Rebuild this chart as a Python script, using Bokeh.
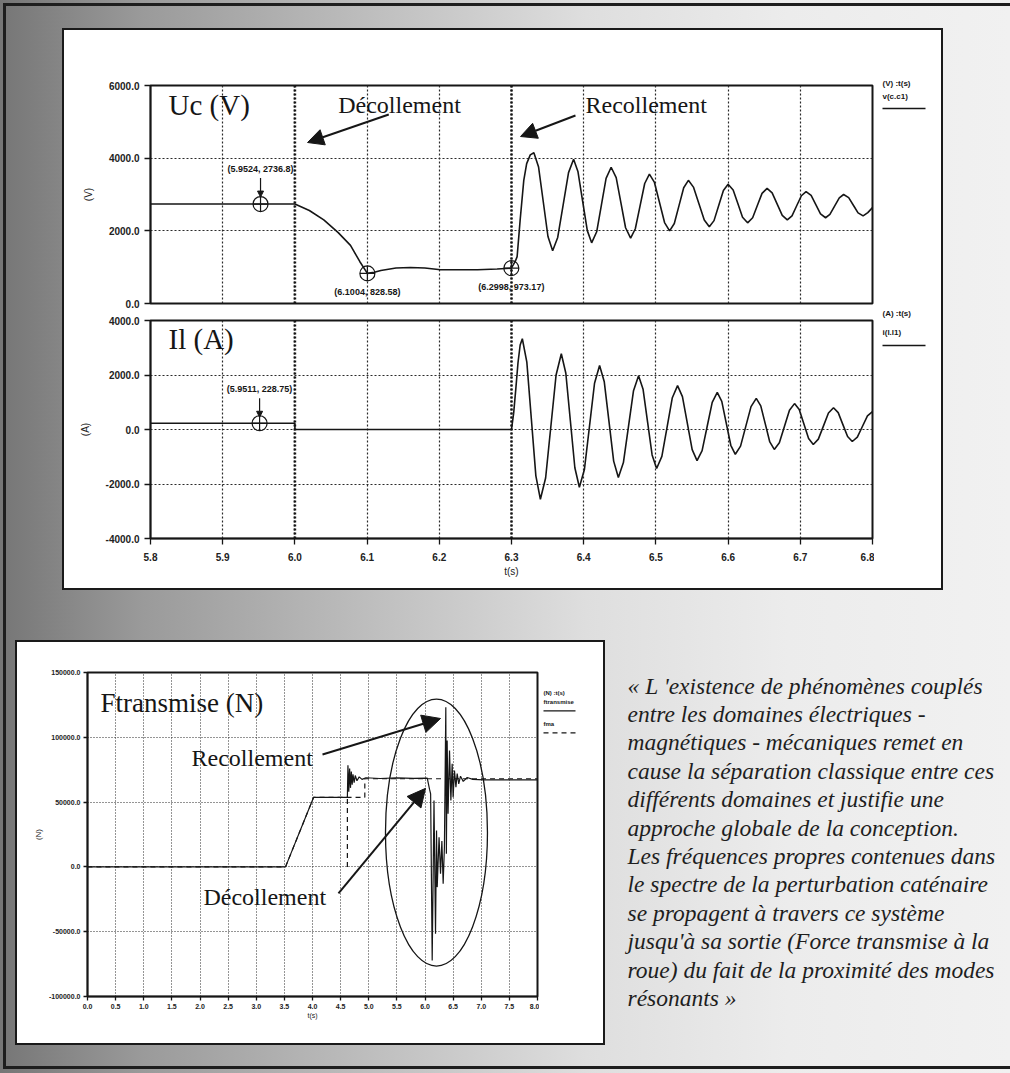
from bokeh.plotting import figure
from bokeh.layouts import column, row
from bokeh.models import (Range1d, FixedTicker, PrintfTickFormatter, Label, Arrow,
                          NormalHead, Span, Spacer)
from bokeh.core.properties import value
from bokeh.embed import file_html
from bokeh.resources import INLINE

# ------------------------------------------------------------------ data
# Uc (V) versus t (s)
uc_t = [5.80, 6.000, 6.020, 6.040, 6.060, 6.077, 6.090, 6.1004, 6.110, 6.119, 6.140,
        6.160, 6.180, 6.2017, 6.230, 6.253, 6.280, 6.2998, 6.305, 6.3078, 6.312, 6.317,
        6.321, 6.326, 6.331,
        6.3375, 6.344, 6.3505, 6.357,
        6.364, 6.3715, 6.379, 6.386,
        6.392, 6.3985, 6.405, 6.411,
        6.418, 6.4245, 6.431, 6.438,
        6.445, 6.4515, 6.458, 6.465,
        6.4715, 6.478, 6.4845, 6.491,
        6.498, 6.505, 6.512, 6.519,
        6.5255, 6.532, 6.5385, 6.545,
        6.552, 6.5595, 6.567, 6.574,
        6.5805, 6.587, 6.5935, 6.600,
        6.607, 6.6135, 6.620, 6.627,
        6.634, 6.6405, 6.647, 6.654,
        6.661, 6.668, 6.675, 6.682,
        6.6885, 6.695, 6.7015, 6.708,
        6.715, 6.7215, 6.728, 6.735,
        6.741, 6.7475, 6.754, 6.760,
        6.767, 6.7735, 6.780, 6.787,
        6.7935, 6.800]
uc_v = [2736.8, 2736.8, 2560, 2300, 1950, 1600, 1150, 828.58, 860, 910, 975,
        990, 975, 930, 930, 930, 950, 973.17, 1150, 1290, 2300, 3390,
        3850, 4090, 4150,
        3756, 2800, 1844, 1450,
        1818, 2710, 3602, 3970,
        3634, 2820, 2006, 1670,
        1974, 2710, 3446, 3750,
        3465, 2775, 2085, 1800,
        2057, 2680, 3303, 3560,
        3332, 2780, 2228, 2000,
        2203, 2695, 3187, 3390,
        3203, 2750, 2297, 2110,
        2281, 2695, 3109, 3280,
        3125, 2750, 2375, 2220,
        2359, 2695, 3031, 3170,
        3043, 2735, 2427, 2300,
        2414, 2690, 2966, 3080,
        2975, 2720, 2465, 2360,
        2453, 2680, 2907, 3000,
        2914, 2705, 2496, 2410,
        2500, 2640]

# Il (A) versus t (s)
il_t = [5.80, 6.000, 6.000, 6.300, 6.303, 6.306, 6.309, 6.312, 6.315,
        6.32125, 6.3275, 6.33375, 6.340,
        6.34725, 6.3545, 6.36175, 6.369,
        6.37525, 6.3815, 6.38775, 6.394,
        6.401, 6.408, 6.415, 6.422,
        6.4285, 6.435, 6.4415, 6.448,
        6.455, 6.462, 6.469, 6.476,
        6.48225, 6.4885, 6.49475, 6.501,
        6.50825, 6.5155, 6.52275, 6.530,
        6.53675, 6.5435, 6.55025, 6.557,
        6.564, 6.571, 6.578, 6.585,
        6.59125, 6.5975, 6.60375, 6.610,
        6.61725, 6.6245, 6.63175, 6.639,
        6.64525, 6.6515, 6.65775, 6.664,
        6.671, 6.678, 6.685, 6.692,
        6.6985, 6.705, 6.7115, 6.718,
        6.725, 6.732, 6.739, 6.746,
        6.7525, 6.759, 6.7655, 6.772,
        6.779, 6.786, 6.793, 6.800]
il_v = [228.75, 228.75, 0, 0, 600, 1500, 2450, 3100, 3330,
        2470, 385, -1700, -2560,
        -1780, 110, 2000, 2780,
        2065, 330, -1405, -2120,
        -1467, 115, 1697, 2350,
        1750, 295, -1160, -1760,
        -1215, 105, 1425, 1970,
        1474, 270, -934, -1430,
        -986, 90, 1166, 1610,
        1209, 235, -739, -1140,
        -775, 110, 995, 1360,
        1029, 225, -579, -910,
        -611, 115, 841, 1140,
        867, 205, -457, -730,
        -485, 110, 705, 950,
        731, 200, -331, -550,
        -353, 125, 603, 800,
        619, 180, -259, -440,
        -279, 110, 499, 660]

# cursor read-outs
uc_marks_t = [5.9524, 6.1004, 6.2998]
uc_marks_v = [2736.8, 828.58, 973.17]
il_marks_t = [5.9511]
il_marks_v = [228.75]
event_t = [6.0, 6.3]          # décollement / recollement instants

t_ticks = [5.8, 5.9, 6.0, 6.1, 6.2, 6.3, 6.4, 6.5, 6.6, 6.7, 6.8]
uc_ticks = [0, 2000, 4000, 6000]
il_ticks = [-4000, -2000, 0, 2000, 4000]

# Ftransmise (N) versus t (s)
f_t = [0, 3.52, 4.02, 4.62, 4.63, 4.645, 4.66, 4.675, 4.69, 4.705, 4.72, 4.74, 4.76,
       4.79, 4.83, 4.88, 4.95, 5.20, 5.50, 5.80, 6.04, 6.08, 6.10, 6.128, 6.16, 6.187,
       6.205, 6.217, 6.25, 6.276, 6.30, 6.323, 6.345, 6.37, 6.38, 6.394, 6.41, 6.436,
       6.46, 6.483, 6.50, 6.524, 6.55, 6.572, 6.60, 6.631, 6.68, 6.75, 6.85, 7.05, 8.0]
f_v = [0, 0, 53700, 53700, 78400, 58000, 76000, 61000, 73500, 63500, 71500, 65000, 70500,
       66500, 69500, 67500, 68800, 68200, 68700, 68300, 68500, 60000, 56400, -72200, 51200, -51600,
       28100, -15600, 22900, -5300, 20000, -13000, 15000, 123200, 10100, 97500, 41000, 89800,
       51200, 79500, 53800, 74400, 61500, 72000, 64000, 70000, 66000, 69000, 67500, 67200, 67200]
fma_xs = [[0, 3.52, 4.02, 4.93, 4.93, 8.0], [4.62, 4.62]]
fma_ys = [[0, 0, 53700, 53700, 68000, 68000], [0, 53700]]

f_xticks = [0.0, 0.5, 1.0, 1.5, 2.0, 2.5, 3.0, 3.5, 4.0, 4.5, 5.0, 5.5, 6.0, 6.5, 7.0, 7.5, 8.0]
f_yticks = [-100000, -50000, 0, 50000, 100000, 150000]

legend_uc = ["(V) :t(s)", "v(c.c1)"]
legend_il = ["(A) :t(s)", "i(l.l1)"]
legend_f = ["(N) :t(s)", "ftransmise", "fma"]

quote_lines = [
    "« L 'existence de phénomènes couplés",
    "entre les domaines électriques -",
    "magnétiques - mécaniques remet en",
    "cause la séparation classique entre ces",
    "différents domaines et justifie une",
    "approche globale de la conception.",
    "Les fréquences propres contenues dans",
    "le spectre de la perturbation caténaire",
    "se propagent à travers ce système",
    "jusqu'à sa sortie (Force transmise à la",
    "roue) du fait de la proximité des modes",
    "résonants »",
]

# ------------------------------------------------------------------ style
SANS = "Liberation Sans"
SERIF = "Liberation Serif"
INK = "#161616"


def base_fig(w, h, xr, yr, left, right, top, bottom, xt, yt, tick_size, dash):
    p = figure(width=w, height=h, x_range=Range1d(*xr), y_range=Range1d(*yr),
               output_backend="svg", toolbar_location=None, title=None,
               min_border_left=left, min_border_right=right,
               min_border_top=top, min_border_bottom=bottom)
    p.border_fill_color = None
    p.background_fill_color = "white"
    p.outline_line_color = INK
    p.outline_line_width = 2
    p.xaxis.ticker = FixedTicker(ticks=xt)
    p.yaxis.ticker = FixedTicker(ticks=yt)
    p.xgrid.ticker = FixedTicker(ticks=xt)
    p.ygrid.ticker = FixedTicker(ticks=yt)
    p.xaxis.formatter = PrintfTickFormatter(format="%.1f")
    p.yaxis.formatter = PrintfTickFormatter(format="%.1f")
    for g in (p.xgrid, p.ygrid):
        g.grid_line_color = "#2a2a2a"
        g.grid_line_dash = dash
        g.grid_line_width = 1.2
    for ax in (p.xaxis, p.yaxis):
        ax.axis_line_color = INK
        ax.axis_line_width = 1.5
        ax.major_tick_line_color = INK
        ax.major_tick_line_width = 1.3
        ax.major_tick_in = 0
        ax.major_tick_out = 6
        ax.minor_tick_line_color = None
        ax.major_label_text_font = SANS
        ax.major_label_text_font_style = "bold"
        ax.major_label_text_font_size = tick_size
        ax.major_label_text_color = "#222222"
        ax.axis_label_text_font = SANS
        ax.axis_label_text_font_style = "normal"
        ax.axis_label_text_color = "#222222"
    return p


def blank_fig(w, h):
    p = figure(width=w, height=h, x_range=Range1d(0, w), y_range=Range1d(h, 0),
               output_backend="svg", toolbar_location=None, title=None, min_border=0)
    p.axis.visible = False
    p.grid.visible = False
    p.outline_line_color = None
    p.background_fill_color = None
    p.border_fill_color = None
    return p


def lab(p, x, y, text, size, font=SERIF, align="left", style="normal", yoff=0, color=INK):
    p.add_layout(Label(x=x, y=y, text=text, text_font=font, text_font_size=size,
                       text_font_style=style, text_align=align, text_baseline="middle",
                       y_offset=yoff, text_color=color))


def arrow(p, x0, y0, x1, y1, head=14, width=2.0):
    p.add_layout(Arrow(end=NormalHead(size=head, fill_color=INK, line_color=INK),
                       x_start=x0, y_start=y0, x_end=x1, y_end=y1,
                       line_color=INK, line_width=width))


def legend_block(p, x, y, labels, styles, size, step, gap):
    """labels stacked from (x, y); every series label followed by its line sample"""
    cy = y
    p.text(x=[x], y=[cy], text=[labels[0]], text_font=value(SANS), text_font_style="bold",
           text_font_size=size, text_color=INK, text_baseline="middle")
    for name, dash in zip(labels[1:], styles):
        cy += step
        p.text(x=[x], y=[cy], text=[name], text_font=value(SANS), text_font_style="bold",
               text_font_size=size, text_color=INK, text_baseline="middle")
        cy += gap
        p.line([x, x + (43 if size == "8px" else 32)], [cy, cy], line_color=INK,
               line_width=1.3, line_dash=dash)
        cy += gap * 0.4


# ------------------------------------------------------------------ Uc plot
p_uc = base_fig(812, 283, (5.8, 6.8), (0, 6000), 88, 2, 57, 8,
                t_ticks, uc_ticks, "10px", "2 2")
p_uc.xaxis.visible = False
p_uc.yaxis.axis_label = "(V)"
p_uc.yaxis.axis_label_text_font_size = "10px"
p_uc.yaxis.axis_label_standoff = 12
p_uc.line(uc_t, uc_v, line_color=INK, line_width=1.6)
for te in event_t:
    p_uc.add_layout(Span(location=te, dimension="height", line_color=INK,
                         line_width=2.6, line_dash="2 2"))
p_uc.scatter(uc_marks_t, uc_marks_v, marker="circle_cross", size=15,
             fill_color=None, line_color=INK, line_width=1.2)
uc_px = 6000 / 218.0
for i, (mt, mv) in enumerate(zip(uc_marks_t, uc_marks_v)):
    txt = f"({mt}, {mv})"
    if i == 0:
        lab(p_uc, mt, mv, txt, "9px", font=SANS, align="center", style="bold", yoff=35)
        arrow(p_uc, mt, mv + 26 * uc_px, mt, mv + 7 * uc_px, head=6, width=1.2)
    else:
        lab(p_uc, mt, mv, txt, "9px", font=SANS, align="center", style="bold", yoff=-19)
lab(p_uc, 5.825, 5450, "Uc (V)", "29px")
lab(p_uc, 6.060, 5450, "Décollement", "24px")
lab(p_uc, 6.4025, 5450, "Recollement", "24px")
arrow(p_uc, 6.130, 5202, 6.0175, 4431, head=16)
arrow(p_uc, 6.3886, 5174, 6.3125, 4596, head=16)

# ------------------------------------------------------------------ Il plot
p_il = base_fig(812, 279, (5.8, 6.8), (-4000, 4000), 88, 2, 9, 52,
                t_ticks, il_ticks, "10px", "2 2")
p_il.yaxis.axis_label = "(A)"
p_il.yaxis.axis_label_text_font_size = "10px"
p_il.yaxis.axis_label_standoff = 12
p_il.xaxis.axis_label = "t(s)"
p_il.xaxis.axis_label_text_font_size = "10px"
p_il.xaxis.axis_label_standoff = 2
p_il.xaxis.major_label_standoff = 8
p_il.line(il_t, il_v, line_color=INK, line_width=1.6)
for te in event_t:
    p_il.add_layout(Span(location=te, dimension="height", line_color=INK,
                         line_width=2.6, line_dash="2 2"))
p_il.scatter(il_marks_t, il_marks_v, marker="circle_cross", size=15,
             fill_color=None, line_color=INK, line_width=1.2)
il_px = 8000 / 218.0
for mt, mv in zip(il_marks_t, il_marks_v):
    lab(p_il, mt, mv, f"({mt}, {mv})", "9px", font=SANS, align="center", style="bold", yoff=34)
    arrow(p_il, mt, mv + 25 * il_px, mt, mv + 6 * il_px, head=6, width=1.2)
lab(p_il, 5.825, 3330, "Il (A)", "29px")

# legends of the top panel (right margin strip)
leg_top = blank_fig(69, 562)
legend_block(leg_top, 8, 55, legend_uc, ["solid"], "8px", 13, 12)
legend_block(leg_top, 8, 285, legend_il, ["solid"], "8px", 19, 13)

top_panel = row(column(p_uc, p_il), leg_top, width=881, height=562,
                styles={"background": "white",
                        "box-shadow": "inset 0 0 0 2px #1a1a1a"})

# ------------------------------------------------------------------ F plot
p_f = base_fig(524, 405, (0, 8), (-100000, 150000), 72, 2, 32, 49,
               f_xticks, f_yticks, "7px", "1 2")
for ax in (p_f.xaxis, p_f.yaxis):
    ax.major_tick_out = 4
    ax.major_label_standoff = 3
p_f.grid.grid_line_width = 1.0
p_f.yaxis.axis_label = "(N)"
p_f.yaxis.axis_label_text_font_size = "8px"
p_f.yaxis.axis_label_standoff = 3
p_f.xaxis.axis_label = "t(s)"
p_f.xaxis.axis_label_text_font_size = "7px"
p_f.xaxis.axis_label_standoff = 0
p_f.multi_line(fma_xs, fma_ys, line_color=INK, line_width=1.2, line_dash="5 4")
p_f.line(f_t, f_v, line_color=INK, line_width=1.2)
p_f.ellipse(x=[6.204], y=[26500], width=[1.813], height=[206000],
            fill_color=None, line_color=INK, line_width=1.3)
lab(p_f, 0.231, 126800, "Ftransmise (N)", "27px")
lab(p_f, 1.849, 84400, "Recollement", "24px")
lab(p_f, 2.062, -23600, "Décollement", "24px")
arrow(p_f, 4.178, 86700, 6.276, 114500, head=18)
arrow(p_f, 4.462, -20400, 6.009, 60600, head=18)

leg_f = blank_fig(66, 405)
legend_block(leg_f, 4, 25, legend_f, ["solid", "5 4"], "6px", 12, 11)

f_panel = row(p_f, leg_f, width=590, height=405,
              styles={"background": "white",
                      "box-shadow": "inset 0 0 0 2px #1a1a1a"})

# ------------------------------------------------------------------ quote
p_txt = blank_fig(405, 405)
line_x = [22] * len(quote_lines)
line_y = [45 + 28.4 * i for i in range(len(quote_lines))]
p_txt.text(x=line_x, y=line_y, text=quote_lines, text_font=value(SERIF),
           text_font_style="italic", text_font_size="23.5px", text_color="#1e1e1e",
           text_baseline="middle", text_align="left")

# ------------------------------------------------------------------ page
bg = ("linear-gradient(#1e1e1e,#1e1e1e) 3px 3px/1007px 3px no-repeat, "
      "linear-gradient(#1e1e1e,#1e1e1e) 3px 3px/3px 1066px no-repeat, "
      "linear-gradient(#1e1e1e,#1e1e1e) 3px 1066px/1007px 3px no-repeat, "
      "linear-gradient(90deg, #767676 0%, #9a9a9a 14%, #c0c0c0 38%, #dedede 58%, "
      "#ececec 78%, #f1f1f1 100%)")

root = column(
    Spacer(width=1010, height=28),
    row(Spacer(width=62, height=562), top_panel),
    Spacer(width=1010, height=50),
    row(Spacer(width=15, height=405), f_panel, p_txt),
    Spacer(width=1010, height=28),
    width=1010, height=1073, styles={"background": bg},
)

open("out.html", "w").write(file_html(root, INLINE))
